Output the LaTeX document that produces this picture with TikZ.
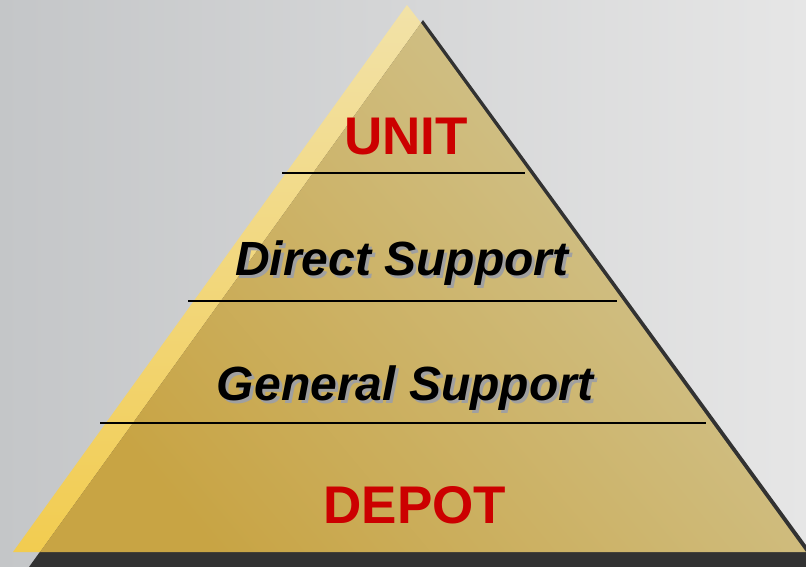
\documentclass[tikz,border=0pt]{standalone}
\usepackage{fontspec}
\setmainfont{Liberation Sans}
\usetikzlibrary{positioning}

\definecolor{steelL}{RGB}{196,198,200}
\definecolor{steelR}{RGB}{230,230,230}
\definecolor{faceTop}{RGB}{210,198,150}
\definecolor{faceMid}{RGB}{208,192,138}
\definecolor{faceBot}{RGB}{200,164,68}
\definecolor{stripTop}{RGB}{242,226,168}
\definecolor{stripBot}{RGB}{242,204,80}
\definecolor{dropShade}{RGB}{50,50,50}
\definecolor{levelRed}{RGB}{204,0,0}
\definecolor{textShade}{RGB}{160,160,160}

\begin{document}
\begin{tikzpicture}[x=1pt,y=-1pt,
    level text/.style={font=\fontsize{53}{60}\selectfont\bfseries,text=levelRed,anchor=base,inner sep=0pt},
    support text/.style={font=\fontsize{48}{54}\selectfont\bfseries\itshape,anchor=base,inner sep=0pt},
    divider/.style={black,line width=1.6pt}]

  % background plate
  \useasboundingbox (0,0) rectangle (806,567);
  \shade[left color=steelL,right color=steelR] (0,0) rectangle (806,567);

  % pyramid corners
  \coordinate (apex) at (407,5);
  \coordinate (bl) at (13,552);
  \coordinate (br) at (806,552);

  % drop shadow, then the two faces
  \fill[dropShade] (423,20) -- (29,567) -- (822,567) -- cycle;
  \shade[top color=stripTop,bottom color=stripBot] (apex) -- (bl) -- (40,552) -- (421,23) -- cycle;
  \shade[top color=faceTop,middle color=faceMid,bottom color=faceBot,shading angle=-50] (421,23) -- (40,552) -- (br) -- cycle;

  % level dividers
  \draw[divider] (282,173) -- (525,173);
  \draw[divider] (188,301) -- (617,301);
  \draw[divider] (100,423) -- (706,423);

  % level names
  \node[level text] (unit) at (406,155) {UNIT};
  \node[support text,text=textShade] (dsShade) at (405,278) {Direct Support};
  \node[support text] (ds) at (402,275) {Direct Support};
  \node[support text,text=textShade] (gsShade) at (408,403) {General Support};
  \node[support text] (gs) at (405,400) {General Support};
  \node[level text] (depot) at (415,523) {DEPOT};
\end{tikzpicture}
\end{document}
